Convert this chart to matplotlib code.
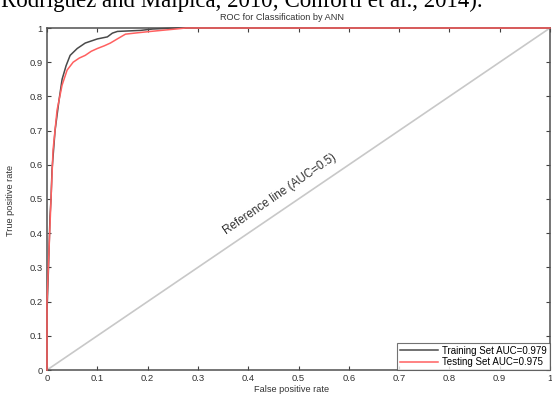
import matplotlib
matplotlib.use("Agg")
import matplotlib.pyplot as plt

# ROC points (false positive rate, true positive rate)
fpr_train = [0, 0, 0.003, 0.006, 0.008, 0.010, 0.016, 0.024, 0.030, 0.038, 0.046,
             0.060, 0.068, 0.076, 0.088, 0.100, 0.120, 0.130, 0.140, 0.186, 0.210,
             0.256, 1.0]
tpr_train = [0, 0.17, 0.30, 0.45, 0.50, 0.585, 0.70, 0.79, 0.85, 0.89, 0.92,
             0.94, 0.948, 0.956, 0.962, 0.968, 0.974, 0.985, 0.99, 0.993, 0.997,
             1.0, 1.0]

fpr_test = [0, 0, 0.004, 0.008, 0.012, 0.020, 0.030, 0.040, 0.052, 0.064, 0.076,
            0.088, 0.100, 0.114, 0.126, 0.142, 0.156, 0.180, 0.206, 0.256, 0.276, 1.0]
tpr_test = [0, 0.20, 0.35, 0.50, 0.643, 0.76, 0.833, 0.877, 0.90, 0.912, 0.92,
            0.932, 0.94, 0.948, 0.956, 0.97, 0.982, 0.986, 0.99, 0.997, 1.0, 1.0]

ref_line = [0, 1]
ticks = [0, 0.1, 0.2, 0.3, 0.4, 0.5, 0.6, 0.7, 0.8, 0.9, 1]
tick_labels = ["0", "0.1", "0.2", "0.3", "0.4", "0.5", "0.6", "0.7", "0.8", "0.9", "1"]

plt.rcParams["font.family"] = ["Liberation Sans", "DejaVu Sans"]

fig = plt.figure(figsize=(5.52, 3.96), dpi=100)
W, H = 552.0, 396.0
ax = fig.add_axes([47 / W, 1 - 370 / H, 503 / W, 342 / H])

# cropped line of the surrounding paper text
fig.text(1 / W, 1 - 7 / H, "Rodriguez and Malpica, 2010; Conforti et al., 2014).",
         family="Liberation Serif", fontsize=16.5, va="baseline", ha="left")

ax.plot(ref_line, ref_line, color="#c8c8c8", linewidth=1.2)
ax.plot(fpr_train, tpr_train, color="#4a4a4a", linewidth=1.1,
        label="Training Set AUC=0.979", zorder=3, clip_on=False)
ax.plot(fpr_test, tpr_test, color="#ff6060", linewidth=1.1,
        label="Testing Set AUC=0.975", zorder=3, clip_on=False)

ax.text(0.463, 0.515, "Reference line (AUC=0.5)", rotation=34.4, fontsize=8.4,
        color="#333333", ha="center", va="center", rotation_mode="anchor")

ax.set_xlim(0, 1)
ax.set_ylim(0, 1)
ax.set_xticks(ticks)
ax.set_xticklabels(tick_labels)
ax.set_yticks(ticks)
ax.set_yticklabels(tick_labels)
ax.tick_params(direction="in", length=3, width=0.8, labelsize=6.8, colors="#404040",
               labelcolor="#333333", top=True, right=True, pad=3)
for s in ax.spines.values():
    s.set_color("#505050")
    s.set_linewidth(1.1)

fig.text(282 / W, 1 - 17 / H, "ROC for Classification by ANN", fontsize=6.6,
         color="#333333", ha="center", va="center")
fig.text(292 / W, 1 - 389 / H, "False positive rate", fontsize=6.6,
         color="#333333", ha="center", va="center")
fig.text(11 / W, 1 - 200 / H, "True positive rate", fontsize=6.6,
         color="#333333", ha="center", va="center", rotation=90)

leg = ax.legend(loc="lower right", fontsize=7, frameon=True, fancybox=False,
                borderaxespad=0, handlelength=4.0, handletextpad=0.4,
                borderpad=0.3, labelspacing=0.15)
leg.get_frame().set_edgecolor("#505050")
leg.get_frame().set_linewidth(0.8)
leg.set_zorder(5)

fig.savefig("out.png", dpi=100)
